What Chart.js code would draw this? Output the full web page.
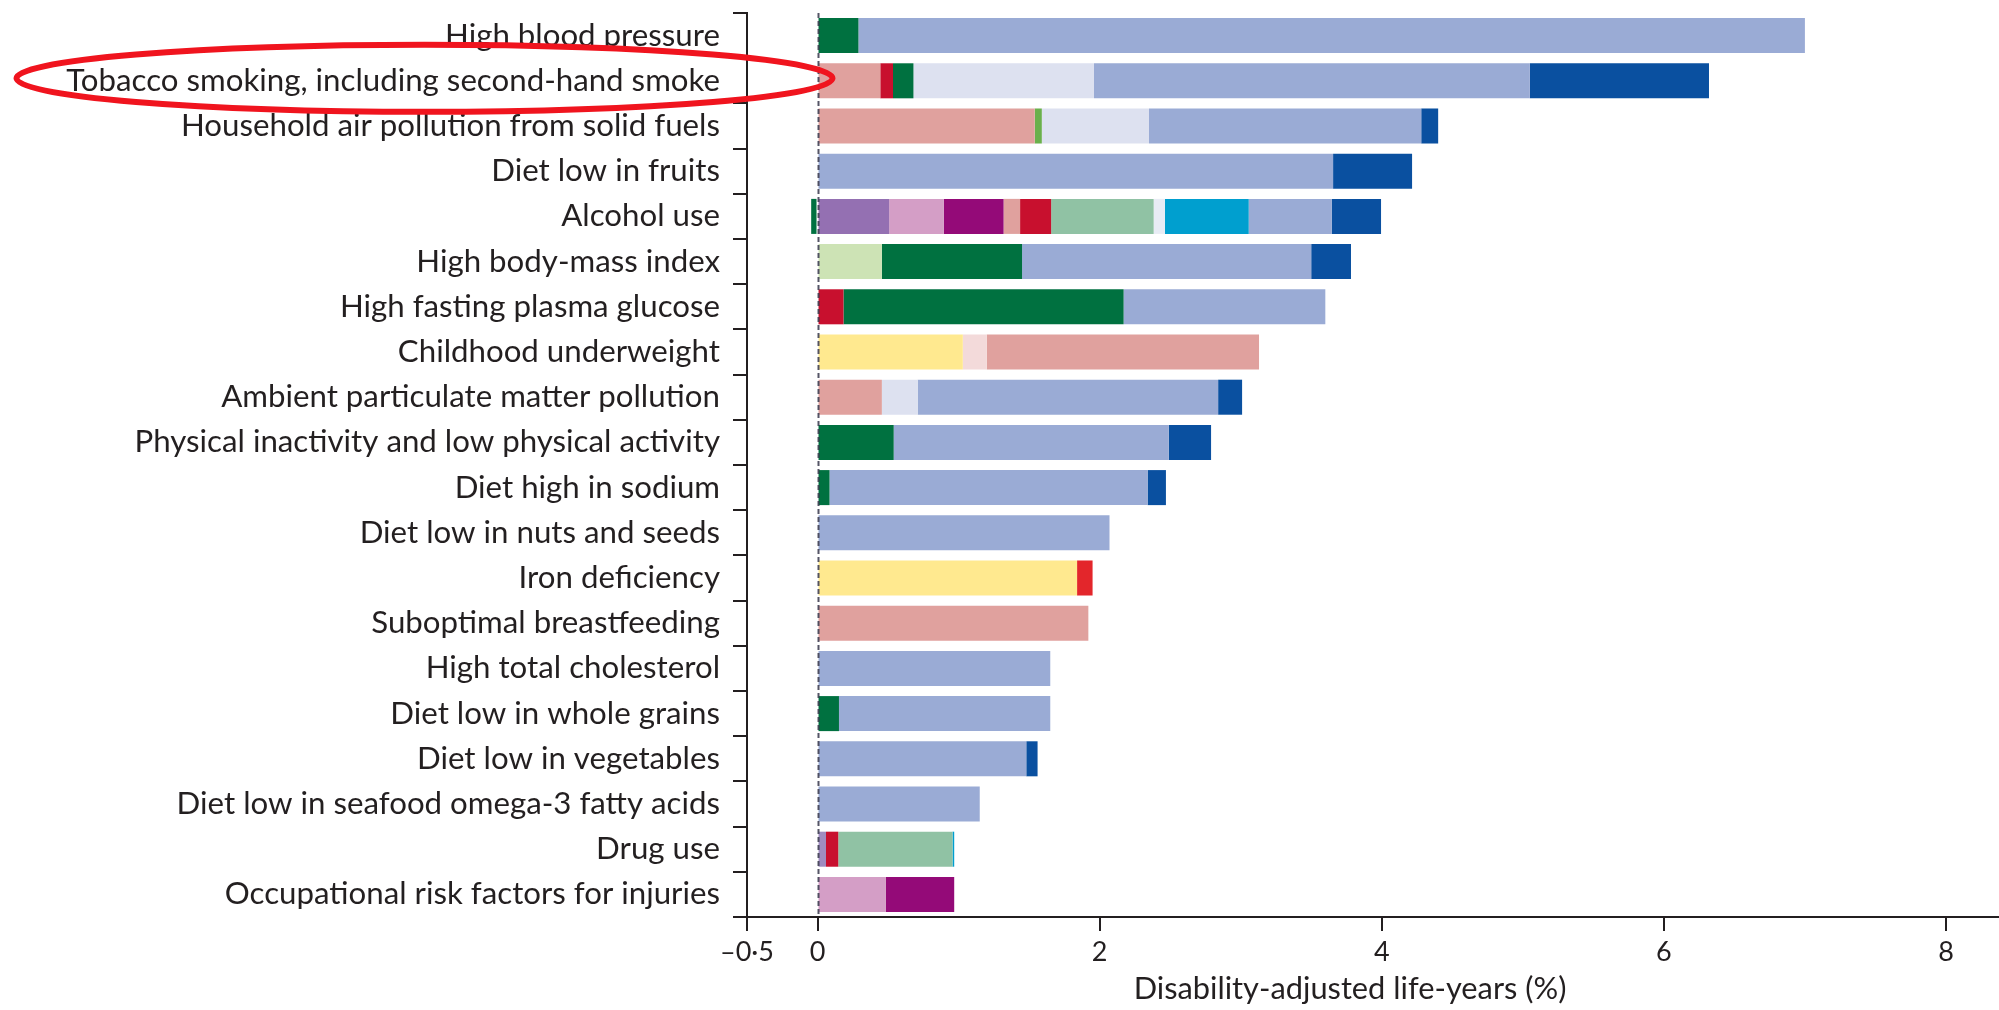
<!DOCTYPE html>
<html>
<head>
<meta charset="utf-8">
<script src="https://cdn.jsdelivr.net/npm/chart.js@4.4.1/dist/chart.umd.min.js"></script>
<style>
  html, body { margin: 0; padding: 0; background: #ffffff; }
  canvas { display: block; }
</style>
</head>
<body>
<canvas id="chart" width="1999" height="1010"></canvas>
<script>
// Risk factors, top to bottom
const riskFactors = [
  'High blood pressure',
  'Tobacco smoking, including second-hand smoke',
  'Household air pollution from solid fuels',
  'Diet low in fruits',
  'Alcohol use',
  'High body-mass index',
  'High fasting plasma glucose',
  'Childhood underweight',
  'Ambient particulate matter pollution',
  'Physical inactivity and low physical activity',
  'Diet high in sodium',
  'Diet low in nuts and seeds',
  'Iron deficiency',
  'Suboptimal breastfeeding',
  'High total cholesterol',
  'Diet low in whole grains',
  'Diet low in vegetables',
  'Diet low in seafood omega-3 fatty acids',
  'Drug use',
  'Occupational risk factors for injuries'
];

// Share of global DALYs (%) attributable to each risk factor, split by cause group
const nutritionalDeficiencies = [0, 0, 0, 0, 0, 0, 0, 1.03, 0, 0, 0, 0, 1.84, 0, 0, 0, 0, 0, 0, 0];
const ntdsAndMalaria          = [0, 0, 0, 0, 0, 0, 0, 0.17, 0, 0, 0, 0, 0, 0, 0, 0, 0, 0, 0, 0];
const intentionalInjuries     = [0, 0, 0, 0, 0.508, 0, 0, 0, 0, 0, 0, 0, 0, 0, 0, 0, 0, 0, 0, 0];
const unintentionalInjuries   = [0, 0, 0, 0, 0.388, 0, 0, 0, 0, 0, 0, 0, 0, 0, 0, 0, 0, 0, 0, 0.485];
const transportInjuries       = [0, 0, 0, 0, 0.423, 0, 0, 0, 0, 0, 0, 0, 0, 0, 0, 0, 0, 0, 0, 0.484];
const otherCommunicable       = [0, 0, 0, 0, 0, 0, 0, 0, 0, 0, 0, 0, 0, 0, 0, 0, 0, 0, 0.06, 0];
const commonInfections        = [0, 0.445, 1.54, 0, 0.117, 0, 0, 1.93, 0.456, 0, 0, 0, 0, 1.92, 0, 0, 0, 0, 0, 0];
const hivAndTuberculosis      = [0, 0.09, 0, 0, 0.22, 0, 0.184, 0, 0, 0, 0, 0, 0, 0, 0, 0, 0, 0, 0.087, 0];
const mentalDisorders         = [0, 0, 0, 0, 0.727, 0, 0, 0, 0, 0, 0, 0, 0, 0, 0, 0, 0, 0, 0.81, 0];
const neurologicalDisorders   = [0, 0, 0, 0, 0.08, 0, 0, 0, 0, 0, 0, 0, 0, 0, 0, 0, 0, 0, 0, 0];
const cirrhosis               = [0, 0, 0, 0, 0.594, 0, 0, 0, 0, 0, 0, 0, 0, 0, 0, 0, 0, 0, 0.012, 0];
const musculoskeletal         = [0, 0, 0, 0, 0, 0.456, 0, 0, 0, 0, 0, 0, 0, 0, 0, 0, 0, 0, 0, 0];
const diabetesEndocrine       = [0.29, 0.145, 0, 0, -0.045, 0.994, 1.986, 0, 0, 0.54, 0.085, 0, 0, 0, 0, 0.152, 0, 0, 0, 0];
const otherNonCommunicable    = [0, 0, 0.05, 0, 0, 0, 0, 0, 0, 0, 0, 0, 0, 0, 0, 0, 0, 0, 0, 0];
const chronicRespiratory      = [0, 1.28, 0.76, 0, 0, 0, 0, 0, 0.254, 0, 0, 0, 0, 0, 0, 0, 0, 0, 0, 0];
const cardiovascular          = [6.71, 3.09, 1.93, 3.655, 0.588, 2.05, 1.43, 0, 2.13, 1.95, 2.255, 2.07, 0, 0, 1.65, 1.498, 1.48, 1.15, 0, 0];
const neoplasms               = [0, 1.27, 0.12, 0.56, 0.35, 0.282, 0, 0, 0.17, 0.30, 0.13, 0, 0, 0, 0, 0, 0.08, 0, 0, 0];
const maternalDisorders       = [0, 0, 0, 0, 0, 0, 0, 0, 0, 0, 0, 0, 0.11, 0, 0, 0, 0, 0, 0, 0];

// Axis ticks
const xTickValues = [-0.5, 0, 2, 4, 6, 8];
const xTickLabels = ['\u20130\u00b75', '0', '2', '4', '6', '8'];
const xAxisTitle = 'Disability-adjusted life-years (%)';

const INK = '#231f20';
const FONT = 'Lato';

// Size the label font so the longest label keeps its set width
const measure = document.createElement('canvas').getContext('2d');
function fitFontSize(text, width) {
  measure.font = '100px ' + FONT;
  return 100 * width / measure.measureText(text).width;
}
const labelSize = fitFontSize(riskFactors[1], 654);
const titleSize = fitFontSize(xAxisTitle, 433);

const series = [
  ['Nutritional deficiencies', nutritionalDeficiencies, '#ffe98f'],
  ['Neglected tropical diseases and malaria', ntdsAndMalaria, '#f3dada'],
  ['Intentional injuries', intentionalInjuries, '#9470b2'],
  ['Unintentional injuries', unintentionalInjuries, '#d49ec6'],
  ['Transport injuries', transportInjuries, '#940a78'],
  ['Other communicable diseases', otherCommunicable, '#a08cc0'],
  ['Diarrhoea, lower respiratory and other common infections', commonInfections, '#e0a19e'],
  ['HIV/AIDS and tuberculosis', hivAndTuberculosis, '#c8102e'],
  ['Mental and behavioural disorders', mentalDisorders, '#90c2a4'],
  ['Neurological disorders', neurologicalDisorders, '#e8ecf5'],
  ['Cirrhosis of the liver', cirrhosis, '#009fcf'],
  ['Musculoskeletal disorders', musculoskeletal, '#cde3b5'],
  ['Diabetes, urogenital, blood and endocrine diseases', diabetesEndocrine, '#007140'],
  ['Other non-communicable diseases', otherNonCommunicable, '#6ab04c'],
  ['Chronic respiratory diseases', chronicRespiratory, '#dde1f0'],
  ['Cardiovascular and circulatory diseases', cardiovascular, '#9aabd5'],
  ['Neoplasms', neoplasms, '#0a50a0'],
  ['Maternal disorders', maternalDisorders, '#e3262b']
];

// Dashed reference line at zero, drawn over the bars
const zeroLine = {
  id: 'zeroLine',
  afterDatasetsDraw(chart) {
    const { ctx, chartArea, scales } = chart;
    const x = Math.round(scales.x.getPixelForValue(0)) + 0.5;
    ctx.save();
    ctx.strokeStyle = 'rgba(55,55,75,0.85)';
    ctx.lineWidth = 2;
    ctx.setLineDash([5, 3]);
    ctx.beginPath();
    ctx.moveTo(x, chartArea.top);
    ctx.lineTo(x, chartArea.bottom);
    ctx.stroke();
    ctx.restore();
  }
};

// Axis title and the highlight ring round the tobacco label
const annotations = {
  id: 'annotations',
  afterDraw(chart) {
    const { ctx, scales } = chart;
    ctx.save();
    ctx.fillStyle = INK;
    ctx.font = titleSize + 'px ' + FONT;
    ctx.textAlign = 'center';
    ctx.textBaseline = 'middle';
    ctx.fillText(xAxisTitle, 1350, 989);

    const cy = scales.y.getPixelForValue(1) - 2.5;
    ctx.strokeStyle = '#f0141e';
    ctx.lineWidth = 6;
    ctx.beginPath();
    ctx.ellipse(424.5, cy, 408, 33.5, 0, 0, Math.PI * 2);
    ctx.stroke();
    ctx.restore();
  }
};

new Chart(document.getElementById('chart'), {
  type: 'bar',
  data: {
    labels: riskFactors,
    datasets: series.map(([label, data, color]) => ({
      label,
      data,
      backgroundColor: color,
      borderWidth: 0,
      categoryPercentage: 1,
      barPercentage: 0.775
    }))
  },
  options: {
    indexAxis: 'y',
    responsive: false,
    animation: false,
    devicePixelRatio: 1,
    layout: { padding: { top: 13, right: 0, bottom: 0, left: 0 } },
    plugins: {
      legend: { display: false },
      tooltip: { enabled: false },
      title: { display: false }
    },
    scales: {
      x: {
        type: 'linear',
        stacked: true,
        min: -0.5,
        max: 8.376,
        afterBuildTicks(scale) {
          scale.ticks = xTickValues.map(v => ({ value: v }));
        },
        afterFit(scale) {
          scale.height = 93;
          scale.paddingLeft = 0;
          scale.paddingRight = 0;
        },
        grid: {
          drawOnChartArea: false,
          drawTicks: true,
          tickLength: 14,
          color: INK,
          lineWidth: 2
        },
        border: { display: true, color: INK, width: 2 },
        ticks: {
          autoSkip: false,
          maxRotation: 0,
          color: INK,
          padding: 5,
          font: { family: FONT, size: 27 },
          callback: (value, index) => xTickLabels[index]
        }
      },
      y: {
        type: 'category',
        stacked: true,
        afterFit(scale) {
          scale.width = 747;
          scale.paddingTop = 0;
          scale.paddingBottom = 0;
        },
        grid: {
          offset: true,
          drawOnChartArea: false,
          drawTicks: true,
          tickLength: 14,
          color: INK,
          lineWidth: 2
        },
        border: { display: true, color: INK, width: 2 },
        ticks: {
          autoSkip: false,
          color: INK,
          padding: 13,
          font: { family: FONT, size: labelSize }
        }
      }
    }
  },
  plugins: [zeroLine, annotations]
});
</script>
</body>
</html>
